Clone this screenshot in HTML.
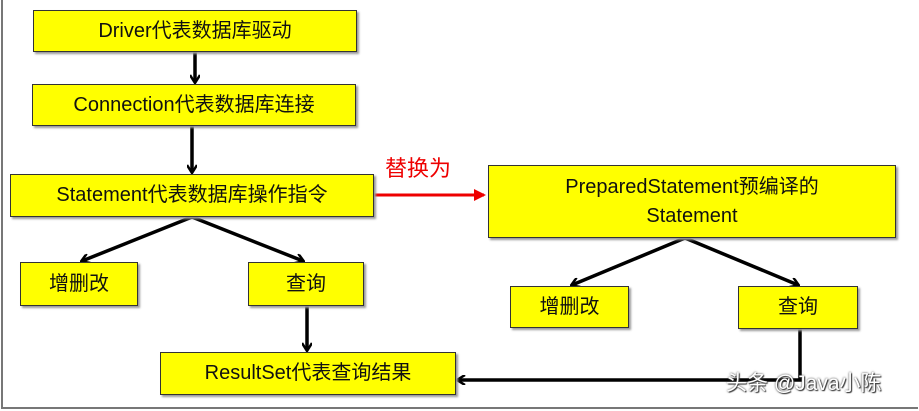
<!DOCTYPE html>
<html><head><meta charset="utf-8"><style>
body{margin:0;width:919px;height:411px;background:#fff;overflow:hidden;position:relative;font-family:"Liberation Sans","Noto Sans CJK SC",sans-serif}
.b{position:absolute;background:#ffff00;border:1.5px solid #333;box-sizing:border-box;display:flex;align-items:center;justify-content:center;text-align:center;font-size:20px;color:#111;line-height:29px;box-shadow:2px 2px 2px #999}
.frame{position:absolute;left:1px;top:0;width:917px;height:409px;border-left:2px solid #777;border-bottom:2px solid #777;box-sizing:border-box}
</style></head><body>
<div class="frame"></div>
<svg width="919" height="411" style="position:absolute;left:0;top:0">
<defs><marker id="a" markerWidth="10" markerHeight="10" refX="8" refY="5" orient="auto" markerUnits="userSpaceOnUse"><path d="M1,0 L9,5 L1,10" fill="none" stroke="#000" stroke-width="2.5"/></marker>
<marker id="r" markerWidth="12" markerHeight="12" refX="10" refY="6" orient="auto" markerUnits="userSpaceOnUse"><path d="M0,0 L12,6 L0,12 z" fill="#e00"/></marker></defs>
<g stroke="#000" stroke-width="3.5" fill="none">
<line x1="195" y1="52" x2="195" y2="82" marker-end="url(#a)"/>
<line x1="192" y1="126" x2="192" y2="172" marker-end="url(#a)"/>
<line x1="192" y1="217" x2="82" y2="261" marker-end="url(#a)"/>
<line x1="192" y1="217" x2="303" y2="261" marker-end="url(#a)"/>
<line x1="307" y1="306" x2="307" y2="350" marker-end="url(#a)"/>
<line x1="685" y1="238" x2="572" y2="285" marker-end="url(#a)"/>
<line x1="685" y1="238" x2="798" y2="285" marker-end="url(#a)"/>
<polyline points="800,329 800,380 458,380" marker-end="url(#a)"/>
</g>
<line x1="374" y1="195" x2="484" y2="195" stroke="#e00" stroke-width="3" marker-end="url(#r)"/>
<text x="385" y="176" fill="#e00" font-size="22" font-family="Liberation Sans,Noto Sans CJK SC,sans-serif">替换为</text>
</svg>
<div class="b" style="left:33px;top:10px;width:324px;height:42px">Driver代表数据库驱动</div>
<div class="b" style="left:32px;top:84px;width:324px;height:42px">Connection代表数据库连接</div>
<div class="b" style="left:10px;top:174px;width:364px;height:43px">Statement代表数据库操作指令</div>
<div class="b" style="left:20px;top:262px;width:118px;height:44px">增删改</div>
<div class="b" style="left:248px;top:262px;width:116px;height:44px">查询</div>
<div class="b" style="left:160px;top:352px;width:296px;height:43px">ResultSet代表查询结果</div>
<div class="b" style="left:488px;top:165px;width:408px;height:73px">PreparedStatement预编译的<br>Statement</div>
<div class="b" style="left:510px;top:286px;width:119px;height:42px">增删改</div>
<div class="b" style="left:738px;top:286px;width:120px;height:43px">查询</div>
<div style="position:absolute;left:726px;top:367px;font-size:21px;color:#fff;text-shadow:0 0 2px #333,1px 1px 1px #333">头条 @Java小陈</div>
</body></html>
